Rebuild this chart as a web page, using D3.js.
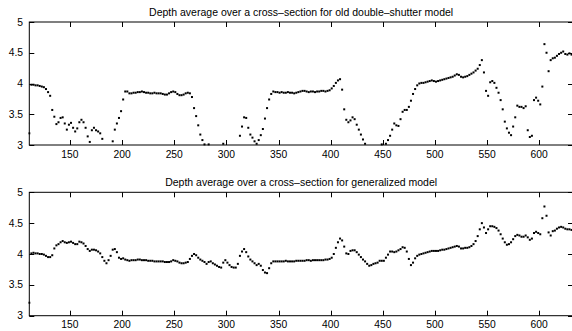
<!DOCTYPE html>
<html>
<head>
<meta charset="utf-8">
<script src="https://cdn.jsdelivr.net/npm/d3@7"></script>
<style>
  html, body { margin: 0; padding: 0; background: #fff; }
  svg { display: block; font-family: "Liberation Sans", Arial, sans-serif; }
</style>
</head>
<body>
<div id="chart"></div>
<script>
// sample positions: x = xStart + i * xStep
const xStart = 111;
const xStep = 2;

// depth average, old double-shutter model (values below 3 fall outside the axes)
const oldModel = [
  3.19, 3.98, 3.98, 3.97, 3.97, 3.96, 3.95, 3.94, 3.91, 3.86,
  3.80, 3.57, 3.46, 3.34, 3.37, 3.44, 3.45, 3.35, 3.25, 3.33,
  3.36, 3.28, 3.22, 3.27, 3.37, 3.41, 3.37, 3.28, 3.14, 3.05,
  3.24, 3.28, 3.24, 3.22, 3.19, 3.10, 2.97, 2.90, 2.90, 2.96,
  3.06, 3.25, 3.35, 3.44, 3.55, 3.74, 3.87, 3.87, 3.84, 3.84,
  3.85, 3.85, 3.86, 3.86, 3.87, 3.86, 3.85, 3.85, 3.84, 3.84,
  3.85, 3.84, 3.84, 3.84, 3.83, 3.82, 3.82, 3.84, 3.86, 3.87,
  3.86, 3.83, 3.81, 3.81, 3.82, 3.84, 3.85, 3.84, 3.78, 3.60,
  3.47, 3.32, 3.17, 3.08, 3.01, 2.96, 3.01, 2.90, 2.90, 2.90,
  2.90, 2.90, 2.90, 3.02, 2.90, 2.90, 2.90, 2.90, 2.90, 2.90,
  2.98, 3.15, 3.30, 3.45, 3.44, 3.28, 3.17, 3.12, 3.06, 3.02,
  3.08, 3.16, 3.26, 3.43, 3.60, 3.74, 3.83, 3.87, 3.86, 3.86,
  3.85, 3.86, 3.85, 3.85, 3.86, 3.85, 3.85, 3.84, 3.85, 3.86,
  3.87, 3.88, 3.88, 3.87, 3.86, 3.87, 3.87, 3.86, 3.87, 3.87,
  3.88, 3.88, 3.87, 3.88, 3.89, 3.92, 3.96, 4.01, 4.05, 4.07,
  3.90, 3.58, 3.41, 3.37, 3.40, 3.45, 3.42, 3.33, 3.25, 3.17,
  3.09, 3.02, 2.90, 2.90, 2.90, 2.90, 2.90, 2.90, 2.90, 3.01,
  2.95, 3.02, 3.08, 3.15, 3.25, 3.35, 3.32, 3.31, 3.42, 3.54,
  3.57, 3.57, 3.62, 3.72, 3.83, 3.91, 3.97, 4.00, 4.01, 4.01,
  4.02, 4.03, 4.04, 4.05, 4.04, 4.03, 4.04, 4.05, 4.06, 4.07,
  4.08, 4.09, 4.10, 4.11, 4.13, 4.15, 4.14, 4.11, 4.10, 4.11,
  4.12, 4.14, 4.16, 4.18, 4.21, 4.24, 4.30, 4.38, 4.18, 3.88,
  3.80, 4.02, 4.04, 4.01, 3.93, 3.85, 3.73, 3.58, 3.38, 3.27,
  3.20, 3.16, 3.30, 3.45, 3.64, 3.62, 3.62, 3.60, 3.63, 3.24,
  3.13, 3.15, 3.73, 3.77, 3.72, 3.66, 3.95, 4.64, 4.50, 4.20,
  4.38, 4.41, 4.42, 4.45, 4.48, 4.50, 4.52, 4.48, 4.47, 4.49,
  4.47
];

// depth average, generalized model
const generalModel = [
  3.21, 4.01, 4.02, 4.01, 4.01, 4.00, 4.00, 3.99, 3.97, 3.95,
  3.95, 3.98, 4.09, 4.14, 4.16, 4.19, 4.21, 4.19, 4.18, 4.19,
  4.20, 4.18, 4.16, 4.16, 4.20, 4.19, 4.17, 4.13, 4.08, 4.05,
  4.07, 4.07, 4.06, 4.04, 4.01, 3.95, 3.89, 3.85, 3.90, 3.97,
  4.07, 4.08, 4.03, 3.94, 3.92, 3.93, 3.91, 3.90, 3.89, 3.90,
  3.90, 3.90, 3.91, 3.91, 3.90, 3.90, 3.90, 3.89, 3.89, 3.89,
  3.88, 3.88, 3.88, 3.88, 3.88, 3.87, 3.87, 3.87, 3.88, 3.90,
  3.89, 3.88, 3.86, 3.85, 3.85, 3.86, 3.87, 3.92, 3.97, 4.00,
  3.98, 3.94, 3.91, 3.89, 3.87, 3.84, 3.87, 3.88, 3.85, 3.83,
  3.81, 3.79, 3.78, 3.86, 3.90, 3.86, 3.82, 3.79, 3.78, 3.78,
  3.84, 3.97, 4.04, 4.08, 4.03, 3.96, 3.91, 3.88, 3.85, 3.82,
  3.84, 3.81, 3.74, 3.70, 3.69, 3.77, 3.85, 3.88, 3.88, 3.88,
  3.88, 3.88, 3.88, 3.89, 3.88, 3.88, 3.88, 3.88, 3.89, 3.89,
  3.89, 3.89, 3.89, 3.90, 3.90, 3.89, 3.90, 3.90, 3.90, 3.90,
  3.90, 3.90, 3.91, 3.91, 3.92, 3.94, 4.00, 4.10, 4.19, 4.25,
  4.22, 4.12, 4.01, 4.00, 4.05, 4.06, 4.06, 4.03, 3.99, 3.95,
  3.91, 3.88, 3.84, 3.81, 3.82, 3.84, 3.85, 3.86, 3.89, 3.89,
  3.89, 3.94, 3.99, 4.04, 4.04, 4.03, 4.04, 4.06, 4.08, 4.11,
  4.10, 4.04, 3.92, 3.82, 3.86, 3.93, 3.97, 3.99, 4.00, 4.01,
  4.02, 4.03, 4.04, 4.05, 4.05, 4.05, 4.05, 4.06, 4.07, 4.07,
  4.08, 4.09, 4.10, 4.11, 4.12, 4.13, 4.12, 4.09, 4.09, 4.10,
  4.10, 4.11, 4.13, 4.16, 4.21, 4.29, 4.40, 4.50, 4.43, 4.34,
  4.40, 4.45, 4.45, 4.44, 4.42, 4.38, 4.32, 4.25, 4.19, 4.15,
  4.16, 4.19, 4.24, 4.29, 4.31, 4.30, 4.28, 4.28, 4.30, 4.27,
  4.23, 4.25, 4.34, 4.36, 4.34, 4.32, 4.58, 4.77, 4.62, 4.35,
  4.30, 4.37, 4.38, 4.41, 4.43, 4.44, 4.43, 4.41, 4.40, 4.40,
  4.39
];

const xTicks = [150, 200, 250, 300, 350, 400, 450, 500, 550, 600];
const yTicks = [3, 3.5, 4, 4.5, 5];
const titles = [
  'Depth average over a cross\u2013section for old double\u2013shutter model',
  'Depth average over a cross\u2013section for generalized model'
];

const width = 572;
const height = 331;
const xDomain = [111, 632.4];
const yDomain = [3, 5];

const svg = d3.select('#chart')
  .append('svg')
  .attr('width', width)
  .attr('height', height);

const x = d3.scaleLinear().domain(xDomain).range([29.3, 573]);

const panels = [
  { title: titles[0], values: oldModel, top: 22, bottom: 145, titleY: 15.5 },
  { title: titles[1], values: generalModel, top: 192.3, bottom: 315.7, titleY: 186.2 }
];

panels.forEach((p, k) => {
  const y = d3.scaleLinear().domain(yDomain).range([p.bottom, p.top]);
  const g = svg.append('g');
  const tickLen = 5;

  g.append('clipPath').attr('id', 'clip' + k)
    .append('rect')
    .attr('x', x.range()[0] - 1)
    .attr('y', p.top - 1)
    .attr('width', x.range()[1] - x.range()[0] + 2)
    .attr('height', p.bottom - p.top + 2);

  // data points as small dots, like matlab's '.' marker
  const pts = p.values.map((v, i) => ({ x: xStart + i * xStep, v: v }))
    .filter(d => d.v >= 2.985 && d.v <= 5);
  g.append('g')
    .attr('clip-path', `url(#clip${k})`)
    .selectAll('rect')
    .data(pts)
    .enter()
    .append('rect')
    .attr('x', d => x(d.x) - 1)
    .attr('y', d => y(d.v) - 1)
    .attr('width', 2)
    .attr('height', 2)
    .attr('fill', '#000');

  // box
  g.append('rect')
    .attr('x', x.range()[0])
    .attr('y', p.top)
    .attr('width', x.range()[1] - x.range()[0])
    .attr('height', p.bottom - p.top)
    .attr('fill', 'none')
    .attr('stroke', '#000')
    .attr('stroke-width', 1);

  // x ticks (inward, bottom and top)
  xTicks.forEach(t => {
    const px = Math.round(x(t)) + 0.5;
    g.append('line').attr('x1', px).attr('x2', px)
      .attr('y1', p.bottom).attr('y2', p.bottom - tickLen)
      .attr('stroke', '#000');
    g.append('line').attr('x1', px).attr('x2', px)
      .attr('y1', p.top).attr('y2', p.top + tickLen)
      .attr('stroke', '#000');
    g.append('text')
      .attr('x', x(t))
      .attr('y', p.bottom + 12.5)
      .attr('text-anchor', 'middle')
      .attr('font-size', 10.3)
      .text(t);
  });

  // y ticks (inward, left and right)
  yTicks.forEach(t => {
    const py = Math.round(y(t)) + 0.5;
    g.append('line').attr('x1', x.range()[0]).attr('x2', x.range()[0] + tickLen)
      .attr('y1', py).attr('y2', py)
      .attr('stroke', '#000');
    g.append('line').attr('x1', x.range()[1]).attr('x2', x.range()[1] - tickLen)
      .attr('y1', py).attr('y2', py)
      .attr('stroke', '#000');
    g.append('text')
      .attr('x', 23)
      .attr('y', y(t) + 3.6)
      .attr('text-anchor', 'end')
      .attr('font-size', 10.3)
      .text(t);
  });

  g.append('text')
    .attr('x', (x.range()[0] + x.range()[1]) / 2)
    .attr('y', p.titleY)
    .attr('text-anchor', 'middle')
    .attr('font-size', 10.5)
    .text(p.title);
});
</script>
</body>
</html>
